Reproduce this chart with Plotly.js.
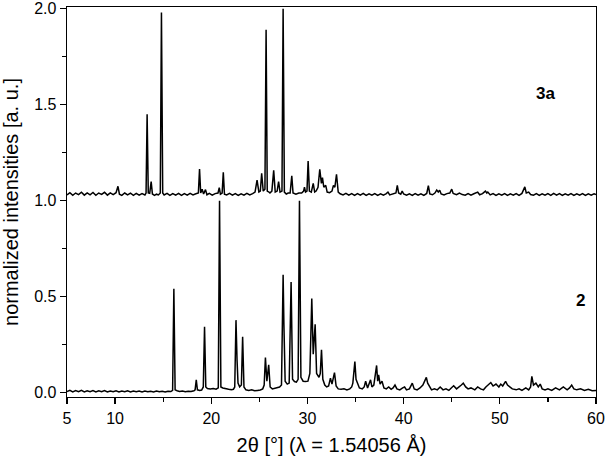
<!DOCTYPE html>
<html>
<head>
<meta charset="utf-8">
<script src="https://cdn.plot.ly/plotly-3.0.1.min.js"></script>
<style>html,body{margin:0;padding:0;background:#fff;}#chart{width:605px;height:456px;}</style>
</head>
<body>
<div id="chart"></div>
<script>
// Sample 3a (offset by +1.0 in the original figure)
const x3a = [5.0,5.3,5.6,5.9,6.2,6.5,6.8,7.1,7.4,7.7,8.0,8.3,8.6,8.9,9.2,9.5,9.8,10.1,10.3,10.45,10.7,11.0,11.3,11.6,11.9,12.2,12.5,12.8,13.1,13.22,13.33,13.45,13.6,13.75,13.88,14.1,14.3,14.5,14.7,14.82,14.95,15.1,15.4,15.7,16.0,16.3,16.6,16.9,17.2,17.5,17.8,18.1,18.4,18.66,18.78,18.9,19.05,19.2,19.4,19.55,19.8,20.1,20.4,20.7,20.83,20.95,21.13,21.25,21.37,21.6,21.9,22.2,22.5,22.8,23.1,23.4,23.7,24.0,24.3,24.55,24.76,24.95,25.1,25.24,25.4,25.58,25.7,25.82,26.0,26.1,26.3,26.49,26.65,26.85,27.0,27.15,27.35,27.47,27.6,27.8,28.0,28.2,28.37,28.5,28.8,29.1,29.4,29.6,29.69,29.8,29.95,30.07,30.2,30.4,30.6,30.75,30.9,31.1,31.28,31.45,31.56,31.7,31.9,32.05,32.3,32.55,32.7,32.85,33.02,33.2,33.4,33.7,34.0,34.3,34.6,34.9,35.2,35.5,35.8,36.1,36.4,36.7,37.0,37.3,37.6,37.9,38.2,38.37,38.55,38.9,39.2,39.34,39.48,39.7,39.85,40.0,40.3,40.6,40.9,41.2,41.5,41.8,42.1,42.4,42.57,42.72,43.0,43.25,43.44,43.6,43.75,43.9,44.2,44.5,44.8,45.0,45.15,45.5,45.8,46.1,46.4,46.7,47.0,47.3,47.7,47.9,48.2,48.5,48.65,48.75,49.0,49.3,49.6,49.9,50.2,50.5,50.8,51.1,51.4,51.7,52.0,52.3,52.6,52.75,53.0,53.2,53.5,53.8,54.1,54.4,54.7,55.0,55.3,55.6,55.9,56.2,56.5,56.8,57.1,57.4,57.7,58.0,58.3,58.6,58.9,59.2,59.5,59.8,60.0];
const y3a = [1.030,1.042,1.028,1.040,1.032,1.044,1.029,1.041,1.031,1.043,1.028,1.040,1.033,1.044,1.029,1.041,1.032,1.042,1.075,1.034,1.028,1.040,1.030,1.039,1.028,1.038,1.029,1.037,1.030,1.040,1.45,1.040,1.038,1.10,1.035,1.028,1.034,1.030,1.040,1.98,1.040,1.030,1.038,1.028,1.037,1.029,1.038,1.028,1.037,1.029,1.038,1.030,1.036,1.040,1.165,1.040,1.060,1.035,1.058,1.031,1.038,1.029,1.037,1.040,1.068,1.034,1.040,1.148,1.034,1.030,1.038,1.029,1.037,1.028,1.036,1.029,1.038,1.030,1.037,1.045,1.107,1.045,1.05,1.143,1.05,1.06,1.89,1.05,1.045,1.04,1.05,1.158,1.045,1.05,1.10,1.045,1.05,2.0,1.045,1.035,1.040,1.040,1.13,1.040,1.034,1.040,1.040,1.050,1.07,1.045,1.05,1.207,1.05,1.045,1.09,1.045,1.05,1.07,1.164,1.09,1.12,1.07,1.08,1.045,1.042,1.05,1.08,1.07,1.138,1.045,1.036,1.030,1.038,1.029,1.037,1.028,1.037,1.029,1.038,1.028,1.036,1.029,1.037,1.028,1.036,1.029,1.037,1.045,1.030,1.037,1.040,1.08,1.040,1.034,1.05,1.035,1.029,1.036,1.028,1.037,1.029,1.036,1.028,1.038,1.078,1.035,1.031,1.040,1.055,1.045,1.055,1.035,1.030,1.037,1.040,1.06,1.038,1.031,1.040,1.032,1.029,1.037,1.029,1.036,1.045,1.031,1.037,1.05,1.04,1.045,1.030,1.037,1.028,1.036,1.029,1.037,1.028,1.036,1.029,1.037,1.028,1.038,1.072,1.040,1.045,1.032,1.029,1.037,1.028,1.036,1.029,1.037,1.028,1.038,1.029,1.037,1.028,1.036,1.029,1.037,1.028,1.036,1.029,1.037,1.028,1.036,1.029,1.036,1.032];

// Sample 2
const x2 = [5.0,5.3,5.6,5.9,6.2,6.5,6.8,7.1,7.4,7.7,8.0,8.3,8.6,8.9,9.2,9.5,9.8,10.1,10.4,10.7,11.0,11.3,11.6,11.9,12.2,12.5,12.8,13.1,13.4,13.7,14.0,14.3,14.6,14.9,15.2,15.5,15.8,15.98,16.11,16.24,16.45,16.7,17.0,17.3,17.6,17.9,18.2,18.32,18.44,18.56,18.8,19.0,19.17,19.3,19.43,19.6,19.9,20.2,20.5,20.73,20.86,21.0,21.2,21.5,21.8,22.1,22.3,22.44,22.57,22.68,22.78,22.95,23.13,23.26,23.4,23.6,23.9,24.2,24.5,24.8,25.1,25.35,25.5,25.63,25.78,25.97,26.12,26.35,26.6,26.85,27.1,27.3,27.47,27.55,27.68,27.9,28.1,28.3,28.45,28.65,28.85,29.03,29.17,29.32,29.55,29.8,30.05,30.25,30.45,30.6,30.8,30.95,31.2,31.33,31.46,31.6,31.8,32.0,32.2,32.39,32.55,32.81,32.98,33.2,33.5,33.8,34.1,34.4,34.6,34.72,34.93,35.05,35.2,35.4,35.7,35.9,36.05,36.25,36.56,36.7,36.9,37.19,37.3,37.4,37.55,37.75,37.95,38.2,38.45,38.7,38.9,39.1,39.3,39.6,39.9,40.1,40.3,40.6,40.9,41.1,41.4,41.7,42.0,42.2,42.36,42.5,42.7,42.9,43.2,43.5,43.8,44.1,44.4,44.7,44.95,45.2,45.5,45.8,46.0,46.2,46.45,46.7,47.0,47.4,47.7,48.0,48.3,48.55,48.8,49.06,49.3,49.6,49.9,50.1,50.3,50.6,50.8,51.0,51.3,51.7,52.0,52.3,52.7,53.0,53.2,53.33,53.5,53.75,54.0,54.2,54.4,54.7,55.0,55.4,55.8,56.2,56.6,57.0,57.25,57.47,57.7,58.0,58.4,58.8,59.2,59.6,60.0];
const y2 = [0.006,0.012,0.004,0.011,0.005,0.012,0.004,0.010,0.005,0.011,0.004,0.010,0.005,0.011,0.004,0.009,0.005,0.010,0.004,0.009,0.005,0.010,0.004,0.009,0.005,0.009,0.004,0.009,0.005,0.008,0.004,0.009,0.005,0.008,0.004,0.008,0.006,0.012,0.542,0.015,0.010,0.006,0.009,0.005,0.008,0.006,0.010,0.015,0.067,0.015,0.012,0.014,0.03,0.344,0.03,0.022,0.020,0.022,0.018,0.025,1.0,0.03,0.025,0.020,0.018,0.015,0.018,0.03,0.378,0.17,0.05,0.03,0.04,0.292,0.03,0.015,0.012,0.015,0.010,0.012,0.014,0.02,0.04,0.183,0.06,0.145,0.03,0.02,0.022,0.025,0.03,0.04,0.615,0.36,0.06,0.045,0.05,0.577,0.07,0.058,0.055,0.07,1.0,0.08,0.06,0.058,0.06,0.1,0.49,0.2,0.356,0.1,0.08,0.1,0.223,0.07,0.04,0.03,0.035,0.076,0.045,0.105,0.035,0.02,0.018,0.02,0.015,0.02,0.03,0.05,0.162,0.07,0.05,0.025,0.02,0.03,0.06,0.025,0.067,0.03,0.04,0.142,0.06,0.093,0.045,0.06,0.025,0.02,0.03,0.018,0.025,0.04,0.02,0.015,0.025,0.03,0.015,0.02,0.05,0.02,0.015,0.025,0.04,0.067,0.08,0.05,0.03,0.015,0.02,0.015,0.03,0.015,0.02,0.012,0.025,0.036,0.02,0.03,0.04,0.05,0.03,0.02,0.025,0.015,0.03,0.02,0.015,0.03,0.04,0.053,0.035,0.045,0.03,0.045,0.035,0.059,0.04,0.03,0.02,0.015,0.02,0.012,0.025,0.015,0.03,0.085,0.04,0.05,0.03,0.045,0.02,0.015,0.02,0.012,0.025,0.015,0.03,0.015,0.025,0.04,0.02,0.015,0.02,0.012,0.018,0.01,0.012];

const xTickVals = [5,10,20,30,40,50,60];
const xTickText = ['5','10','20','30','40','50','60'];
const yTickVals = [0,0.5,1.0,1.5,2.0];
const yTickText = ['0.0','0.5','1.0','1.5','2.0'];
const seriesLabels = ['3a','2'];

const lineStyle = {color:'#000000', width:1.5};
const traces = [
  {x:x3a, y:y3a, type:'scatter', mode:'lines', line:lineStyle, name:seriesLabels[0], hoverinfo:'none'},
  {x:x2, y:y2, type:'scatter', mode:'lines', line:lineStyle, name:seriesLabels[1], hoverinfo:'none'}
];

const font = 'Liberation Sans, Arial, sans-serif';
const layout = {
  width:605, height:456,
  margin:{l:67, r:9, t:7, b:59},
  paper_bgcolor:'#ffffff', plot_bgcolor:'#ffffff',
  showlegend:false,
  font:{family:font, color:'#000000', size:16},
  xaxis:{
    range:[5,60], showgrid:false, zeroline:false,
    showline:true, mirror:true, linecolor:'#000', linewidth:1.4,
    ticks:'outside', ticklen:6, tickwidth:1.3, tickcolor:'#000',
    tickvals:xTickVals, ticktext:xTickText, ticklabeloverflow:'allow',
    tickfont:{family:font, size:16, color:'#000'},
    minor:{tickvals:[15,25,35,45,55], ticks:'outside', ticklen:4, tickwidth:1.3, tickcolor:'#000', showgrid:false},
    title:{text:'2θ [°] (λ = 1.54056 Å)', font:{family:font, size:20, color:'#000'}, standoff:16}
  },
  yaxis:{
    range:[-0.0223,2.0089], showgrid:false, zeroline:false,
    showline:true, mirror:true, linecolor:'#000', linewidth:1.4,
    ticks:'outside', ticklen:6, tickwidth:1.3, tickcolor:'#000',
    tickvals:yTickVals, ticktext:yTickText, ticklabeloverflow:'allow',
    tickfont:{family:font, size:16, color:'#000'},
    minor:{tickvals:[0.25,0.75,1.25,1.75], ticks:'outside', ticklen:4, tickwidth:1.3, tickcolor:'#000', showgrid:false},
    title:{text:'normalized intensities [a. u.]', font:{family:font, size:20, color:'#000'}, standoff:11}
  },
  annotations:[
    {x:54.8, y:1.56, xref:'x', yref:'y', text:'<b>'+seriesLabels[0]+'</b>', showarrow:false, font:{family:font, size:17, color:'#000'}},
    {x:58.4, y:0.48, xref:'x', yref:'y', text:'<b>'+seriesLabels[1]+'</b>', showarrow:false, font:{family:font, size:17, color:'#000'}}
  ]
};

Plotly.newPlot('chart', traces, layout, {staticPlot:true, displayModeBar:false});
</script>
</body>
</html>
